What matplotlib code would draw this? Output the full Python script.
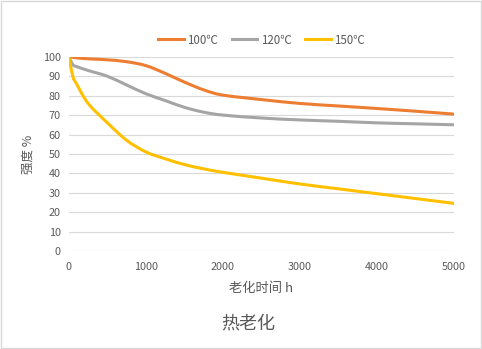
import matplotlib
matplotlib.use('Agg')
import matplotlib.pyplot as plt
from matplotlib.patches import Rectangle, PathPatch
from matplotlib.path import Path
from matplotlib.lines import Line2D

plt.rcParams['font.family'] = ['Noto Sans CJK SC', 'DejaVu Sans']

# aging time (h) and retained strength (%)
hours = [0, 50, 100, 250, 500, 750, 1000, 1250, 1500, 1750, 2000, 2500, 3000, 3500, 4000, 4500, 5000]
s100 = [100, 99.8, 99.5, 99, 98.5, 97.5, 95.5, 91.5, 87, 83, 80.3, 78, 76, 74.7, 73.4, 72, 70.5]
s120 = [100, 96, 95, 93, 90, 85.5, 81, 77.5, 74, 71.5, 70, 68.5, 67.5, 66.8, 66, 65.5, 65]
s150 = [100, 90, 86, 76, 66, 57, 51, 47.5, 44.5, 42.3, 40.5, 37.5, 34.5, 32, 29.5, 27, 24.5]

labels = ['100℃', '120℃', '150℃']
colors = ['#ED7D31', '#A5A5A5', '#FFC000']


def smooth_path(xs, ys):
    # Catmull-Rom style bezier through the points (spreadsheet "smoothed line")
    pts = list(zip(xs, ys))
    verts = [pts[0]]
    codes = [Path.MOVETO]
    n = len(pts)
    for i in range(n - 1):
        p0 = pts[max(i - 1, 0)]
        p1 = pts[i]
        p2 = pts[i + 1]
        p3 = pts[min(i + 2, n - 1)]
        c1 = (p1[0] + (p2[0] - p0[0]) / 6, p1[1] + (p2[1] - p0[1]) / 6)
        c2 = (p2[0] - (p3[0] - p1[0]) / 6, p2[1] - (p3[1] - p1[1]) / 6)
        verts += [c1, c2, p2]
        codes += [Path.CURVE4] * 3
    return Path(verts, codes)


fig = plt.figure(figsize=(4.82, 3.49), dpi=100)
ax = fig.add_axes([0.143, 0.281, 0.799, 0.556])

handles = []
for ys, lab, c in zip([s100, s120, s150], labels, colors):
    ax.add_patch(PathPatch(smooth_path(hours, ys), facecolor='none', edgecolor=c,
                           lw=2.2, capstyle='round', joinstyle='round'))
    handles.append(Line2D([], [], color=c, lw=2.2, label=lab))

ax.set_xlim(0, 5000)
ax.set_ylim(0, 100)
ax.set_xticks(range(0, 5001, 1000))
ax.set_yticks(range(0, 101, 10))
ax.grid(axis='y', color='#D9D9D9', lw=0.8)
ax.set_axisbelow(True)
for sp in ax.spines.values():
    sp.set_visible(False)
ax.tick_params(length=0, labelsize=7.8, labelcolor='#595959', pad=6)
ax.tick_params(axis='x', pad=8)

ax.set_xlabel('老化时间 h', fontsize=9.5, color='#595959', labelpad=7)
ax.set_ylabel('强度 %', fontsize=9, color='#595959', labelpad=6)

ax.legend(handles=handles, loc='lower center', bbox_to_anchor=(0.5, 1.0), ncol=3,
          frameon=False, fontsize=8.3, labelcolor='#595959', handlelength=2.2,
          handletextpad=0.3, columnspacing=1.2)

fig.text(0.515, 0.073, '热老化', ha='center', va='center', fontsize=13, color='#595959')
fig.patches.append(Rectangle((0.002, 0.003), 0.995, 0.993, transform=fig.transFigure,
                             fill=False, edgecolor='#D9D9D9', lw=1))

fig.savefig('out.png', dpi=100)
